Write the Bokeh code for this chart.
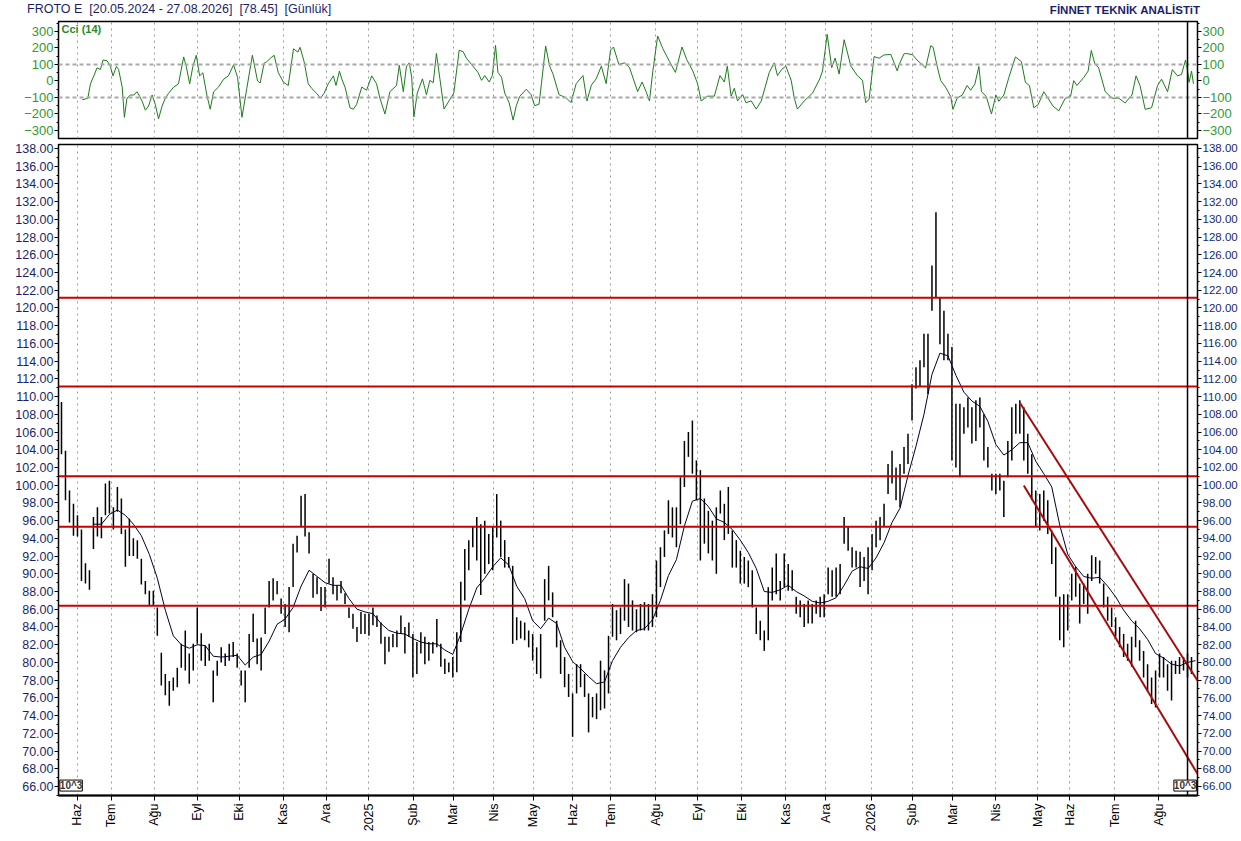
import math
from bokeh.plotting import figure
from bokeh.models import (Range1d, FixedTicker, PrintfTickFormatter, LinearAxis, Span, Label,
                          Grid, Div, ColumnDataSource, CustomJSTickFormatter)
from bokeh.layouts import column
from bokeh.embed import file_html
from bokeh.resources import INLINE

# ---------------- data ----------------
title_left = "FROTO E&nbsp;&nbsp;[20.05.2024 - 27.08.2026]&nbsp;&nbsp;[78.45]&nbsp;&nbsp;[Günlük]"
title_right = "FİNNET TEKNİK ANALİSTiT"
cci_name = "Cci (14)"
scale_tag = "10^3"

# time axis: one unit = two trading sessions
month_labels = ["Haz", "Tem", "Ağu", "Eyl", "Eki", "Kas", "Ara", "2025", "Şub", "Mar", "Nis", "May",
                "Haz", "Tem", "Ağu", "Eyl", "Eki", "Kas", "Ara", "2026", "Şub", "Mar", "Nis", "May",
                "Haz", "Tem", "Ağu"]
month_ticks = [4.0, 12.5, 23.25, 34.0, 44.5, 55.5, 66.25, 77.0, 88.1, 98.1, 108.2, 118.1,
               128.1, 137.6, 148.8, 159.4, 170.3, 181.4, 191.4, 202.8, 213.1, 223.25, 234.0, 244.5,
               252.5, 263.75, 274.75]

bar_high = [
    109.4, 103.9, 99.4, 97.9, 96.6, 95.0, 91.2, 90.4, 96.4, 97.5,
    96.4, 100.2, 100.5, 97.5, 99.8, 98.5, 95.0, 96.2, 94.0, 93.8,
    91.7, 89.2, 88.1, 88.1, 86.2, 81.1, 78.7, 77.9, 78.3, 79.4,
    82.1, 83.6, 81.0, 82.1, 86.2, 83.3, 81.9, 82.1, 79.1, 80.2,
    81.7, 81.0, 82.1, 82.3, 81.0, 79.1, 79.1, 83.2, 85.5, 82.7,
    82.8, 86.2, 89.2, 89.5, 89.2, 87.2, 86.6, 88.5, 93.4, 94.3,
    98.8, 99.0, 94.7, 90.0, 89.6, 88.5, 88.5, 91.7, 89.6, 88.7,
    89.2, 87.8, 86.2, 85.5, 84.0,
    85.7, 85.5, 85.5, 86.2, 85.3, 84.5, 82.9, 82.9, 83.2, 83.6,
    85.3, 84.0, 84.5, 83.2, 82.3, 83.4, 82.9, 82.3, 82.3, 84.9,
    82.1, 80.4, 80.0, 80.6, 83.4, 89.1, 92.8, 93.8, 95.3, 96.4,
    95.6, 96.0, 94.5, 95.3, 99.0, 96.0, 93.8, 91.9, 90.9, 85.1,
    84.7, 84.5, 83.6, 83.2, 81.7, 83.2, 89.4, 90.9, 87.9, 84.7,
    82.5, 80.6, 78.7, 76.5, 79.8, 79.8, 78.7, 76.5, 76.1, 76.5,
    80.2, 79.1, 83.0, 86.6, 85.9, 86.2, 89.4, 88.9, 87.0, 86.0,
    86.6, 86.8, 86.6, 87.7, 91.5,
    93.0, 94.9, 98.3, 97.5, 97.5, 100.9, 105.0, 106.0, 107.3, 102.8,
    101.7, 98.5, 97.1, 96.0, 97.5, 99.4, 97.9, 99.8, 94.9, 93.8,
    92.6, 91.9, 91.5, 90.4, 86.2, 84.7, 83.6, 88.5, 90.7, 92.3,
    89.2, 92.3, 91.1, 90.4, 87.4, 87.0, 86.6, 87.0, 86.6, 87.0,
    87.4, 87.7, 90.7, 90.4, 90.7, 91.1, 96.4, 95.3, 93.0, 92.6,
    92.5, 91.9, 93.0, 94.5, 96.0, 96.4, 97.9, 102.4, 103.9, 102.0,
    102.4, 104.3, 105.8, 111.4, 113.3, 114.1, 117.1, 117.1, 124.8, 130.8,
    121.2, 119.7, 117.1, 115.6, 109.2, 109.2, 108.8, 109.9, 108.8, 109.6,
    109.9, 108.0, 104.3, 101.3, 101.3, 101.3, 100.5, 105.0, 108.8, 109.2,
    109.6, 108.8, 105.8, 103.5, 99.4, 99.0, 99.4, 98.3, 94.9, 93.0,
    87.4, 87.7, 87.7, 90.0, 90.8, 88.9, 88.9, 90.0, 92.1, 91.9,
    91.5, 88.9, 87.4, 86.2, 85.1, 84.0, 83.2, 82.1, 82.9, 84.7,
    82.5, 81.3, 79.8, 78.3, 79.1, 81.0, 80.6, 79.8, 80.2, 80.2,
    80.6, 80.6, 81.0, 80.6,
]
bar_low = [
    103.5, 98.3, 95.8, 94.3, 94.2, 89.2, 88.9, 88.2, 92.8, 94.2,
    94.0, 96.6, 96.8, 95.0, 97.0, 94.5, 90.8, 92.0, 92.0, 91.7,
    88.8, 87.7, 86.4, 86.4, 83.0, 77.4, 76.3, 75.1, 76.8, 77.2,
    79.4, 79.1, 77.6, 79.1, 82.1, 80.2, 79.6, 80.2, 75.5, 78.5,
    80.0, 79.6, 80.2, 80.6, 79.4, 77.4, 75.5, 79.4, 82.3, 79.8,
    79.1, 83.2, 86.2, 87.0, 87.7, 85.5, 84.0, 83.4, 88.5, 92.4,
    95.3, 94.2, 92.3, 87.3, 87.7, 85.8, 86.2, 88.9, 87.7, 87.0,
    87.8, 86.6, 85.0, 83.8, 82.3,
    83.2, 83.2, 83.0, 84.2, 84.0, 82.1, 79.8, 81.2, 81.7, 81.7,
    83.2, 81.0, 82.9, 78.3, 78.7, 81.0, 79.8, 80.2, 81.0, 81.7,
    79.5, 78.7, 78.9, 78.3, 78.9, 82.3, 87.0, 90.4, 93.0, 91.5,
    87.6, 90.0, 91.1, 90.4, 94.1, 91.9, 90.7, 90.7, 82.1, 82.5,
    82.7, 82.5, 81.7, 80.2, 78.7, 78.2, 84.7, 87.0, 85.1, 81.7,
    78.7, 77.2, 76.1, 71.6, 76.5, 77.2, 76.1, 72.1, 73.8, 73.6,
    74.6, 74.8, 76.5, 82.9, 82.5, 83.2, 84.7, 84.0, 83.6, 83.4,
    83.6, 83.6, 83.6, 84.0, 85.1,
    88.5, 91.9, 94.5, 94.1, 93.0, 95.6, 99.8, 103.2, 101.3, 98.3,
    91.5, 93.4, 92.3, 91.5, 90.0, 96.8, 93.8, 94.5, 90.7, 90.7,
    88.9, 88.9, 88.5, 86.2, 83.2, 82.5, 81.3, 82.5, 87.0, 87.7,
    87.0, 88.5, 88.1, 88.1, 85.5, 85.1, 84.0, 84.4, 84.4, 85.5,
    85.1, 85.1, 87.7, 87.4, 87.4, 87.7, 93.4, 92.6, 90.7, 90.7,
    88.5, 89.2, 87.7, 90.4, 93.0, 93.8, 95.3, 99.0, 100.2, 98.3,
    97.5, 101.3, 102.4, 107.3, 110.9, 111.1, 113.3, 110.3, 119.7, 121.2,
    115.9, 114.1, 114.1, 102.8, 102.0, 100.9, 105.8, 106.5, 104.7, 105.0,
    106.5, 102.8, 102.0, 99.4, 99.0, 99.4, 96.4, 100.9, 102.8, 105.8,
    105.8, 102.8, 101.3, 98.3, 95.3, 94.9, 96.0, 94.5, 91.1, 87.4,
    82.5, 81.7, 83.6, 87.0, 87.4, 84.4, 86.6, 85.5, 89.2, 90.0,
    88.9, 86.2, 84.7, 84.0, 82.9, 81.7, 80.6, 80.2, 79.5, 81.7,
    80.2, 78.3, 76.8, 75.3, 74.9, 78.3, 78.3, 76.8, 75.7, 78.7,
    78.7, 79.1, 78.3, 78.7,
]

# moving average, one value every second bar starting at bar 8
ma_start = 8
ma_step = 2
ma_vals = [
    95.6, 95.6, 96.7, 97.2, 96.6, 95.6, 94.3, 92.2, 89.5, 85.9,
    83.0, 82.0, 81.6, 82.0, 81.9, 80.7, 80.6, 80.7, 80.8, 79.7,
    80.6, 80.9, 82.4, 84.3, 84.9, 86.2, 88.6, 90.4, 89.7, 89.0,
    88.7, 88.7, 87.2, 86.0, 85.7, 85.5, 84.4, 83.6, 83.3, 83.2,
    82.7, 82.3, 82.1, 82.1, 81.4, 80.9, 83.2, 86.0, 88.4, 89.5,
    90.8, 91.8, 91.0, 88.6, 87.2, 84.7, 83.8, 85.0, 84.4, 81.7,
    80.1, 79.3, 78.4, 77.6, 77.8, 80.2, 81.7, 82.8, 83.6, 83.8,
    84.8, 87.0, 89.8, 91.6, 95.4, 98.2, 98.5, 97.6, 96.2, 95.8,
    95.0, 93.8, 92.4, 90.6, 88.0, 87.9, 88.2, 88.7, 88.0, 87.5,
    86.9, 86.7, 86.9, 87.3, 88.7, 90.3, 90.8, 90.6, 91.8, 93.5,
    95.8, 97.4, 101.1, 104.4, 108.0, 112.5, 114.9, 114.6, 112.4, 110.5,
    109.5, 108.9, 107.2, 104.6, 103.4, 104.0, 104.8, 104.8, 102.7, 101.3,
    99.8, 95.5, 92.2, 90.8, 89.7, 89.5, 89.6, 88.6, 87.4, 85.9,
    84.7, 83.8, 82.6, 81.0, 80.5, 79.8, 79.6, 80.0, 80.2,
]

# CCI(14) readings: time (bar units) and value
cci_t = [
    5.2, 6.6, 7.25, 8.1, 8.9, 9.75, 10.4, 11.4, 12.25, 12.9, 13.75, 14.3, 15.2, 15.75, 16.4,
    17.25, 18.1, 18.9, 19.6, 20.2, 21, 21.8, 22.7, 23.5, 24.3, 25.2, 26, 26.8, 28.1, 29.3,
    30.6, 31.25, 32.1, 32.9, 33.75, 34.6, 35.4, 36.4, 37.25, 38.1, 39.3, 40.6, 41.8, 43.1, 44.1,
    45.2, 46.4, 47.8, 49.1, 49.75, 50.75, 51.4, 52.7, 53.25, 54.3, 55.6, 56.8, 58.1, 59.2, 59.75,
    60.75, 61.8, 62.7, 63.9, 64.9, 65.75, 66.8, 68.1, 68.75, 69.6, 70.2, 71, 72.25, 73.1, 73.9,
    75.2, 76.4, 77.7, 78.9, 79.75, 81, 82.25, 83.9, 84.6, 85.6, 86.4, 87.1, 87.7, 88.25, 89.1,
    90.4, 91.4, 92.25, 93.1, 93.9, 94.75, 95.8, 97.25, 98.25, 99.6, 100.6, 101.4, 102.7, 104.3, 105.2,
    106, 107.1, 107.9, 108.7, 109.3, 110.2, 111, 112.1, 113.1, 113.9, 114.75, 116.4, 117.6, 118.5, 119.6,
    120.2, 121.25, 122.25, 123.1, 124.6, 126.4, 127.6, 128.9, 130.6, 131.6, 132.7, 133.9, 135.2, 136.4, 137.5,
    138.25, 139.6, 141, 142.25, 144.3, 145.4, 146.4, 147.25, 148.1, 149.3, 150.6, 152.25, 153.75, 155.4, 156.6,
    158.1, 159.3, 160.2, 161.8, 163.5, 164.9, 166, 166.75, 167.7, 168.5, 169.3, 170.6, 171.4, 172.75, 174,
    175.25, 177.25, 178.5, 179.3, 180.4, 181.4, 182.75, 183.5, 184.3, 186, 188.1, 189.9, 190.6, 191.75, 192.9,
    193.75, 194.75, 196, 197.7, 199.3, 200.6, 201.4, 202.25, 203.5, 204.75, 206, 207.7, 209.3, 209.75, 211,
    211.4, 213.1, 214.25, 215.6, 216.4, 217.7, 218.3, 219.3, 220.2, 221.4, 222.7, 223.25, 224.3, 225.6, 226.8,
    227.7, 228.75, 229.75, 230.4, 231.6, 232.9, 234, 234.75, 236, 237.25, 238.9, 240.4, 241.4, 242.4, 243.5,
    244.6, 246, 246.8, 248.3, 249.75, 251.4, 252.7, 253.5, 254.3, 256, 257.1, 257.9, 258.75, 259.75, 261.4,
    263.1, 264.75, 266.4, 267.7, 268.1, 269.1, 270.1, 271.4, 273, 274.5, 275.5, 277, 278.2, 279.5, 280.5,
    281.5, 281.9, 282.4, 283, 283.5,
]
cci_v = [
    -114, -104, -17, 31, 80, 70, 127, 123, 88, 31, 88, 70, -37, -220, -104,
    -85, -85, -65, -94, -123, -177, -152, -85, -143, -229, -152, -104, -75, -37, -17,
    146, 88, -17, 88, 156, 31, 50, -85, -171, -65, -37, 11, 31, 98, 21,
    -220, -46, 156, 0, -12, 108, 117, 146, 156, 50, -8, -27, 195, 175, 204,
    118, -17, -46, -75, -104, -75, -17, 31, -27, 60, 12, -37, -162, -171, -143,
    -37, -56, 31, -17, -104, -200, -65, -27, 95, -65, 90, 110, 23, -218, -73,
    13, -83, 4, -10, 167, 16, -170, -112, -73, 187, 177, 138, 100, 52, 4,
    33, -6, 33, 216, 52, 23, -73, -131, -237, -150, -93, -50, -83, -150, -140,
    -16, 212, 90, 42, -83, -102, -131, -16, 33, -121, -25, 13, 90, -16, 187,
    206, 100, 110, 81, -64, -6, -64, -121, 61, 273, 196, 119, 52, 206, 129,
    61, -16, -121, -92, -92, 33, -6, 90, -92, -44, -121, -83, -131, -121, -170,
    -121, 52, 110, 33, 71, 90, 4, -102, -170, -121, -73, 13, 61, 283, 81,
    139, 42, 250, 90, 33, 4, -131, -112, 148, 138, 158, 161, 61, 98, 165,
    167, 160, 127, 98, 79, 214, 204, 88, 2, -37, -95, -172, -104, -85, -27,
    -56, -17, 88, -65, -94, -200, -85, -123, -85, 21, 146, 117, -8, -27, -162,
    -143, -65, -94, -152, -181, -104, -94, 2, -27, 21, 60, 185, 108, 79, -65,
    -104, -104, -133, -94, -85, 31, -27, -172, -162, -27, 11, -65, 69, 31, 40,
    127, 79, -8, 60, -17,
]
cci_levels = [100, -100]

support_levels = [121.15, 111.15, 101.0, 95.3, 86.4]
channel_t = [240.0, 284.5]
channel_upper = [109.3, 77.96]
channel_t_low = [241.0, 284.5]
channel_lower = [99.97, 67.43]
cursor_t = 282
scale_tag_t = [2.4, 281.4]
scale_tag_y = [66.1, 66.1]

# ---------------- styling / layout ----------------
W = 1240
LB, RB = 58, 41
FONT = "Liberation Sans"
NAVY = "#1b1f6b"
GREEN_TXT = "#2f9a2f"
xr = Range1d(-0.75, 284.5)

month_fmt = CustomJSTickFormatter(args=dict(mt=month_ticks, ml=month_labels), code="""
const i = mt.findIndex(t => Math.abs(t - tick) < 1e-6);
return i >= 0 ? ml[i] : '';
""")


def style_y(ax, color, size):
    ax.major_label_text_font = FONT
    ax.major_label_text_font_size = size
    ax.major_label_text_color = color
    ax.axis_line_color = "black"
    ax.major_tick_line_color = "black"
    ax.minor_tick_line_color = "black"
    ax.major_tick_out = 4
    ax.major_tick_in = 0
    ax.minor_tick_out = 2
    ax.minor_tick_in = 0
    ax.major_label_standoff = 1


header = Div(text=(
    f'<div style="position:relative;width:{W}px;height:18px;font-family:\'Liberation Sans\',Arial,sans-serif;'
    f'color:{NAVY};white-space:nowrap;">'
    f'<span style="position:absolute;left:27px;top:1px;font-size:12.5px;">{title_left}</span>'
    f'<span style="position:absolute;right:{W - 1200}px;top:2px;font-size:11.5px;font-weight:bold;">{title_right}</span>'
    '</div>'), width=W, height=18, margin=(0, 0, 0, 0))

# ---- CCI panel ----
c = figure(width=W, height=122, x_range=xr, y_range=Range1d(-348.5, 360.6),
           output_backend="svg", toolbar_location=None, x_axis_location=None,
           min_border_left=LB, min_border_right=RB, min_border_top=3, min_border_bottom=2)
c.outline_line_color = "black"
c.outline_line_width = 1.5
c.ygrid.visible = False
for g in c.xgrid:
    g.visible = False
c.add_layout(Grid(dimension=0, ticker=FixedTicker(ticks=month_ticks),
                  grid_line_color="#9a9a9a", grid_line_dash="dotted", grid_line_width=1))
cci_ticker = FixedTicker(ticks=list(range(-300, 301, 100)), minor_ticks=list(range(-350, 351, 50)))
c.yaxis.ticker = cci_ticker
style_y(c.yaxis[0], GREEN_TXT, "13px")
cr = LinearAxis(ticker=cci_ticker)
style_y(cr, GREEN_TXT, "13px")
c.add_layout(cr, "right")
for lv in cci_levels:
    c.add_layout(Span(location=lv, dimension="width", line_color="#a8a8a8",
                      line_dash="4 3", line_width=2))
c.line(cci_t, cci_v, line_color="#1e7b1e", line_width=1)
c.add_layout(Span(location=cursor_t, dimension="height", line_color="black", line_width=1.5))
c.add_layout(Label(x=-0.75, y=360.6, text=cci_name, text_font=FONT, text_font_size="11px",
                   text_font_style="bold", text_color="#2a8a2a", text_baseline="top",
                   x_offset=3, y_offset=-1))

# ---- price panel ----
p = figure(width=W, height=700, x_range=xr, y_range=Range1d(64.98, 138.45),
           output_backend="svg", toolbar_location=None,
           min_border_left=LB, min_border_right=RB, min_border_top=4, min_border_bottom=45)
p.outline_line_color = "black"
p.outline_line_width = 1.5
p.ygrid.visible = False
p.xgrid.grid_line_color = "#9a9a9a"
p.xgrid.grid_line_dash = "dotted"

p.xaxis.ticker = FixedTicker(ticks=month_ticks)
p.xaxis.formatter = month_fmt
p.xaxis.major_label_orientation = math.pi / 2
p.xaxis.major_label_text_font = FONT
p.xaxis.major_label_text_font_size = "12.5px"
p.xaxis.major_label_text_color = "black"
p.xaxis.axis_line_color = "black"
p.xaxis.axis_line_width = 2
p.xaxis.major_tick_out = 5
p.xaxis.major_tick_in = 0
p.xaxis.minor_tick_line_color = None
p.xaxis.major_label_standoff = 3

price_ticker = FixedTicker(ticks=list(range(66, 139, 2)), minor_ticks=list(range(65, 140, 1)))
p.yaxis.ticker = price_ticker
p.yaxis.formatter = PrintfTickFormatter(format="%.2f")
style_y(p.yaxis[0], NAVY, "12.5px")
pr = LinearAxis(ticker=price_ticker, formatter=PrintfTickFormatter(format="%.2f"))
style_y(pr, NAVY, "11.5px")
p.add_layout(pr, "right")

src = ColumnDataSource(dict(t=list(range(len(bar_high))), high=bar_high, low=bar_low))
p.segment(x0="t", y0="low", x1="t", y1="high", source=src, line_color="black", line_width=1.5)

ma_t = [ma_start + ma_step * k for k in range(len(ma_vals))]
p.line(ma_t, ma_vals, line_color="#00002a", line_width=1)

for lv in support_levels:
    p.add_layout(Span(location=lv, dimension="width", line_color="#c80000", line_width=2))
p.line(channel_t, channel_upper, line_color="#a50c0c", line_width=2)
p.line(channel_t_low, channel_lower, line_color="#a50c0c", line_width=2)
p.add_layout(Span(location=cursor_t, dimension="height", line_color="black", line_width=1.5))

for tx, ty in zip(scale_tag_t, scale_tag_y):
    p.add_layout(Label(x=tx, y=ty, text=scale_tag, text_font=FONT, text_font_size="10px",
                       text_font_style="bold", text_color="#333333", text_align="center",
                       text_baseline="middle", border_line_color="black",
                       background_fill_color="white"))

layout = column(header, c, p, spacing=0)
open("out.html", "w").write(file_html(layout, INLINE))
